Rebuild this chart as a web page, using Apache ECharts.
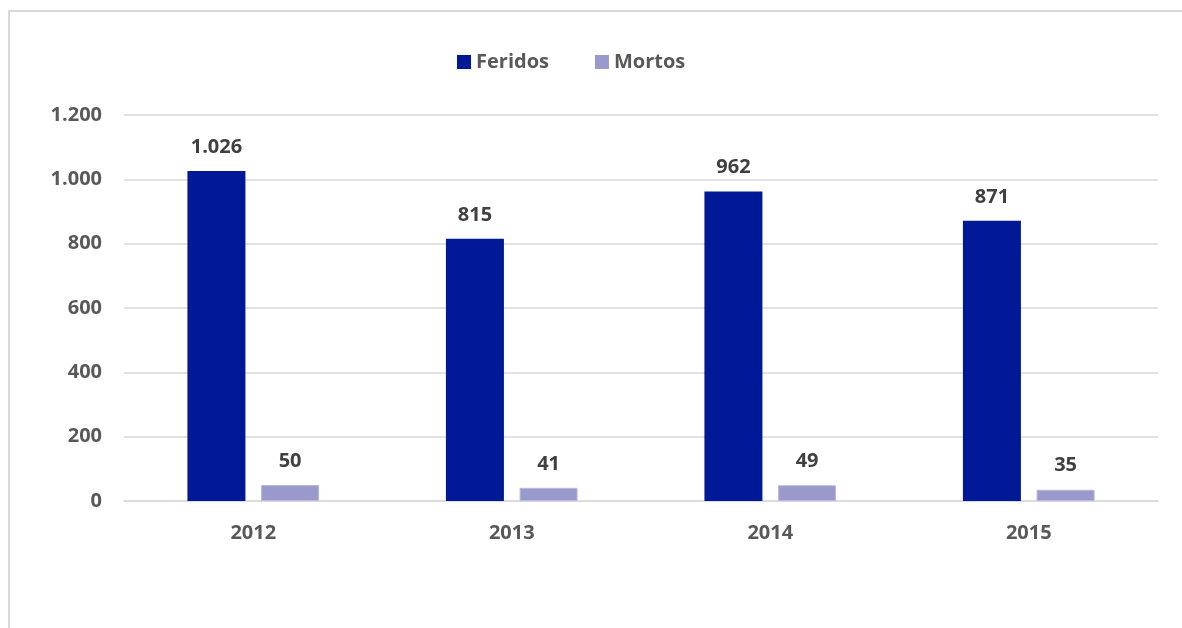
<!DOCTYPE html>
<html>
<head>
<meta charset="utf-8">
<script src="https://cdn.jsdelivr.net/npm/echarts@6/dist/echarts.min.js"></script>
<style>
  html, body { margin: 0; padding: 0; background: #fff; }
  #grafica { width: 1182px; height: 628px; }
</style>
</head>
<body>
<div id="grafica"></div>
<script>
let anos = ['2012', '2013', '2014', '2015'];
let feridos = [1026, 815, 962, 871];
let mortos = [50, 41, 49, 35];
let fonte = '"Open Sans", "Liberation Sans", sans-serif';

// separador de milhar com ponto
function formatar(v) {
  return String(v).replace(/\B(?=(\d{3})+(?!\d))/g, '.');
}

let chartDom = document.getElementById('grafica');
let myChart = echarts.init(chartDom, null, { renderer: 'canvas' });

let rotulo = {
  show: true,
  position: 'top',
  distance: 14,
  color: '#404040',
  fontFamily: fonte,
  fontWeight: 'bold',
  fontSize: 20,
  formatter: p => formatar(p.value)
};

let option = {
  animation: false,
  graphic: [{
    type: 'rect',
    shape: { x: 9, y: 11, width: 1300, height: 800 },
    style: { fill: 'none', stroke: '#d9d9d9', lineWidth: 2 },
    silent: true
  }],
  legend: {
    top: 47,
    left: 452,
    itemWidth: 14,
    itemHeight: 14,
    itemGap: 46,
    icon: 'rect',
    itemStyle: { borderWidth: 0 },
    textStyle: {
      color: '#595959',
      fontFamily: fonte,
      fontWeight: 'bold',
      fontSize: 20
    },
    data: ['Feridos', 'Mortos']
  },
  grid: { left: 124, right: 24, top: 115, bottom: 127, containLabel: false },
  xAxis: {
    type: 'category',
    data: anos,
    axisTick: { show: false },
    axisLine: { lineStyle: { color: '#d9d9d9', width: 1.5 } },
    axisLabel: {
      color: '#595959',
      fontFamily: fonte,
      fontWeight: 'bold',
      fontSize: 20,
      margin: 22
    }
  },
  yAxis: {
    type: 'value',
    min: 0,
    max: 1200,
    interval: 200,
    axisLine: { show: false },
    axisTick: { show: false },
    splitLine: { lineStyle: { color: '#d9d9d9', width: 1.5 } },
    axisLabel: {
      color: '#595959',
      fontFamily: fonte,
      fontWeight: 'bold',
      fontSize: 20,
      margin: 22,
      formatter: v => formatar(v)
    }
  },
  series: [
    {
      name: 'Feridos',
      type: 'bar',
      data: feridos,
      barWidth: 58,
      barGap: '27%',
      itemStyle: { color: '#001996' },
      label: rotulo
    },
    {
      name: 'Mortos',
      type: 'bar',
      data: mortos,
      barWidth: 58,
      itemStyle: { color: '#9999cc', borderColor: '#b8b8dd', borderWidth: 1 },
      label: rotulo
    }
  ]
};

myChart.setOption(option);
</script>
</body>
</html>
